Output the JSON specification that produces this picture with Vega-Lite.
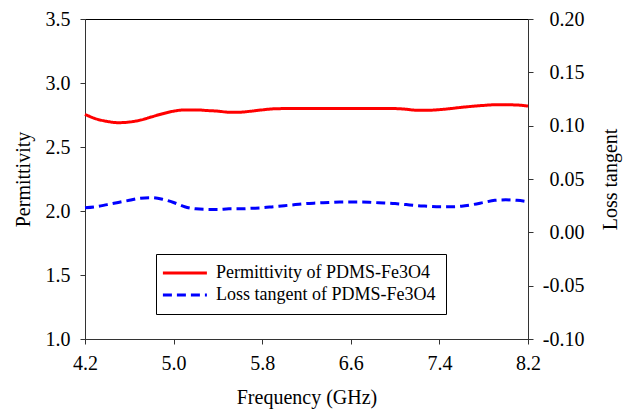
{
  "$schema": "https://vega.github.io/schema/vega-lite/v6.json",
  "width": 443,
  "height": 320,
  "autosize": {"type": "none"},
  "padding": {"left": 85, "top": 19, "right": 102, "bottom": 73},
  "background": "white",
  "config": {
    "font": "Liberation Serif",
    "view": {"stroke": "black", "strokeWidth": 1},
    "axis": {
      "grid": false,
      "labelFlush": false,
      "labelFont": "Liberation Serif",
      "labelFontSize": 20,
      "titleFont": "Liberation Serif",
      "titleFontSize": 20,
      "titleFontWeight": "normal",
      "labelColor": "black",
      "titleColor": "black",
      "domainColor": "#333",
      "tickColor": "#333",
      "tickSize": 5
    }
  },
  "datasets": {
    "perm": [
      {"f": 4.2, "v": 2.755}, {"f": 4.3, "v": 2.72}, {"f": 4.4, "v": 2.70}, {"f": 4.5, "v": 2.69},
      {"f": 4.6, "v": 2.695}, {"f": 4.7, "v": 2.71}, {"f": 4.8, "v": 2.735}, {"f": 4.9, "v": 2.76},
      {"f": 5.0, "v": 2.78}, {"f": 5.1, "v": 2.79}, {"f": 5.2, "v": 2.79}, {"f": 5.3, "v": 2.785},
      {"f": 5.4, "v": 2.78}, {"f": 5.5, "v": 2.772}, {"f": 5.6, "v": 2.772}, {"f": 5.7, "v": 2.78},
      {"f": 5.8, "v": 2.79}, {"f": 5.9, "v": 2.798}, {"f": 6.0, "v": 2.80}, {"f": 6.2, "v": 2.80},
      {"f": 6.4, "v": 2.80}, {"f": 6.6, "v": 2.80}, {"f": 6.8, "v": 2.80}, {"f": 7.0, "v": 2.80},
      {"f": 7.1, "v": 2.795}, {"f": 7.2, "v": 2.787}, {"f": 7.3, "v": 2.787}, {"f": 7.4, "v": 2.792},
      {"f": 7.5, "v": 2.80}, {"f": 7.6, "v": 2.81}, {"f": 7.7, "v": 2.818}, {"f": 7.8, "v": 2.825},
      {"f": 7.9, "v": 2.83}, {"f": 8.0, "v": 2.83}, {"f": 8.1, "v": 2.828}, {"f": 8.2, "v": 2.82}
    ],
    "loss": [
      {"f": 4.2, "v": 0.023}, {"f": 4.3, "v": 0.024}, {"f": 4.4, "v": 0.026}, {"f": 4.5, "v": 0.028},
      {"f": 4.6, "v": 0.030}, {"f": 4.7, "v": 0.032}, {"f": 4.8, "v": 0.0325}, {"f": 4.9, "v": 0.031},
      {"f": 5.0, "v": 0.028}, {"f": 5.1, "v": 0.024}, {"f": 5.2, "v": 0.022}, {"f": 5.3, "v": 0.0215},
      {"f": 5.4, "v": 0.0215}, {"f": 5.5, "v": 0.022}, {"f": 5.6, "v": 0.022}, {"f": 5.7, "v": 0.0225},
      {"f": 5.8, "v": 0.023}, {"f": 5.9, "v": 0.024}, {"f": 6.0, "v": 0.025}, {"f": 6.1, "v": 0.026},
      {"f": 6.2, "v": 0.027}, {"f": 6.3, "v": 0.0275}, {"f": 6.4, "v": 0.028}, {"f": 6.5, "v": 0.0285},
      {"f": 6.6, "v": 0.0285}, {"f": 6.7, "v": 0.0285}, {"f": 6.8, "v": 0.028}, {"f": 6.9, "v": 0.0275},
      {"f": 7.0, "v": 0.027}, {"f": 7.1, "v": 0.026}, {"f": 7.2, "v": 0.025}, {"f": 7.3, "v": 0.0245},
      {"f": 7.4, "v": 0.024}, {"f": 7.5, "v": 0.024}, {"f": 7.6, "v": 0.0245}, {"f": 7.7, "v": 0.026},
      {"f": 7.8, "v": 0.028}, {"f": 7.9, "v": 0.030}, {"f": 8.0, "v": 0.0305}, {"f": 8.1, "v": 0.030},
      {"f": 8.2, "v": 0.0287}
    ]
  },
  "layer": [
    {
      "data": {"name": "perm"},
      "transform": [{"calculate": "'Permittivity of PDMS-Fe3O4'", "as": "series"}],
      "mark": {"type": "line", "strokeWidth": 3, "interpolate": "monotone"},
      "encoding": {
        "x": {
          "field": "f", "type": "quantitative",
          "scale": {"domain": [4.2, 8.2], "nice": false, "zero": false},
          "axis": {"title": "Frequency (GHz)", "values": [4.2, 5.0, 5.8, 6.6, 7.4, 8.2], "format": ".1f", "labelFont": "Liberation Serif", "labelFlush": false, "labelPadding": 9, "titlePadding": 14}
        },
        "y": {
          "field": "v", "type": "quantitative",
          "scale": {"domain": [1.0, 3.5], "nice": false, "zero": false},
          "axis": {"title": "Permittivity", "orient": "left", "values": [1.0, 1.5, 2.0, 2.5, 3.0, 3.5], "format": ".1f", "labelFont": "Liberation Serif", "labelFlush": false, "labelPadding": 10, "titlePadding": 12}
        },
        "color": {
          "field": "series", "type": "nominal",
          "scale": {"domain": ["Permittivity of PDMS-Fe3O4", "Loss tangent of PDMS-Fe3O4"], "range": ["#ff0000", "#0000ff"]},
          "legend": {
            "title": null, "orient": "none", "legendX": 71, "legendY": 235,
            "strokeColor": "black", "padding": 10, "fillColor": "white",
            "labelFont": "Liberation Serif", "labelFontSize": 18, "labelColor": "black", "labelLimit": 500,
            "labelExpr": "datum.label + '    '",
            "symbolType": "M-2.2,0H5.8", "symbolSize": 121, "symbolStrokeWidth": 3, "labelOffset": 32, "rowPadding": 4
          }
        },
        "strokeDash": {
          "field": "series", "type": "nominal",
          "scale": {"domain": ["Permittivity of PDMS-Fe3O4", "Loss tangent of PDMS-Fe3O4"], "range": [[1, 0], [9, 5]]},
          "legend": {
            "title": null, "orient": "none", "legendX": 71, "legendY": 235,
            "strokeColor": "black", "padding": 10, "fillColor": "white",
            "labelFont": "Liberation Serif", "labelFontSize": 18, "labelColor": "black", "labelLimit": 500,
            "labelExpr": "datum.label + '    '",
            "symbolType": "M-2.2,0H5.8", "symbolSize": 121, "symbolStrokeWidth": 3, "labelOffset": 32, "rowPadding": 4
          }
        }
      }
    },
    {
      "data": {"name": "loss"},
      "transform": [{"calculate": "'Loss tangent of PDMS-Fe3O4'", "as": "series"}],
      "mark": {"type": "line", "strokeWidth": 3, "interpolate": "monotone"},
      "encoding": {
        "x": {"field": "f", "type": "quantitative"},
        "y": {
          "field": "v", "type": "quantitative",
          "scale": {"domain": [-0.1, 0.2], "nice": false, "zero": false},
          "axis": {"title": "Loss tangent", "orient": "right", "values": [-0.1, -0.05, 0, 0.05, 0.1, 0.15, 0.2], "labelExpr": "replace(format(datum.value, '.2f'), '\u2212', '-')", "labelFont": "Liberation Serif", "labelFlush": false, "labelAlign": "right", "labelPadding": 51, "titleAngle": 270, "titleBaseline": "top", "titlePadding": 16}
        },
        "color": {"field": "series", "type": "nominal"},
        "strokeDash": {"field": "series", "type": "nominal"}
      }
    }
  ],
  "resolve": {"scale": {"y": "independent"}}
}
